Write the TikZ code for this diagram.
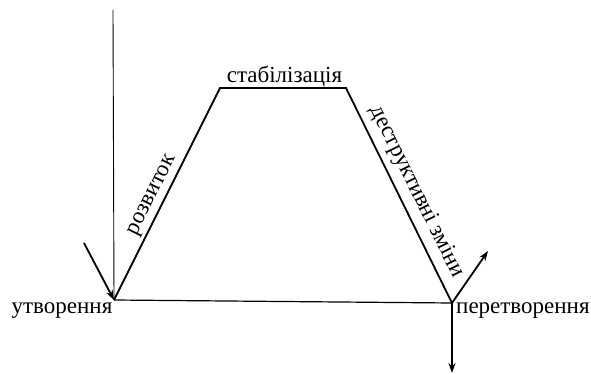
\documentclass[tikz,border=0pt]{standalone}
\usepackage{fontspec}
\setmainfont{Liberation Serif}
\usetikzlibrary{arrows.meta}
\begin{document}
\begin{tikzpicture}[x=1pt,y=-1pt,
  thinline/.style={line width=0.9pt},
  thickline/.style={line width=1.8pt},
  arr/.style={line width=1.8pt,-{Stealth[length=10pt,width=7pt]}},
  lbl/.style={font=\fontsize{23}{26}\selectfont,inner sep=0pt}]
\useasboundingbox (0,0) rectangle (591,374);
\coordinate (top) at (113,10);
\coordinate (bl) at (114,300);
\coordinate (tl) at (220,88);
\coordinate (tr) at (346,88);
\coordinate (br) at (452,303);
\coordinate (s1) at (84,243);
\coordinate (e1) at (488,251);
\coordinate (e2) at (452,373);
\draw[thinline] (top) -- (bl);
\draw[thickline,line join=miter] (bl) -- (tl) -- (tr) -- (br);
\draw[line width=1.2pt] (bl) -- (br);
\draw[arr] (s1) -- (bl);
\draw[arr] (br) -- (e1);
\draw[arr] (br) -- (e2);
\node[lbl,anchor=base] (stab) at (284.5,83) {стабілізація};
\node[lbl,anchor=base] (utv) at (62,313) {утворення};
\node[lbl,anchor=base west] (per) at (456,313) {перетворення};
\node[lbl,anchor=base,rotate=63.6] (roz) at (156,197) {розвиток};
\node[lbl,anchor=base,rotate=-63.6] (des) at (412,194) {деструктивні зміни};
\end{tikzpicture}
\end{document}
